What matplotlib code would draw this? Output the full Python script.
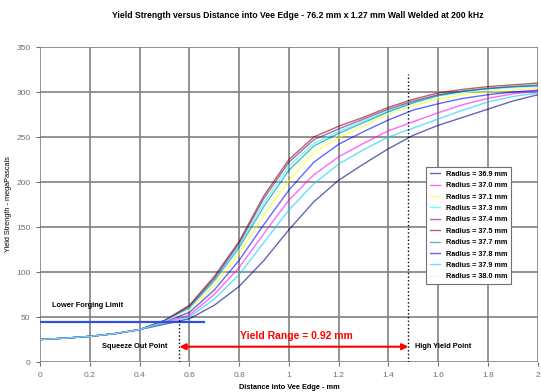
import numpy as np
import matplotlib
matplotlib.use('Agg')
import matplotlib.pyplot as plt

plt.rcParams['font.family'] = ['Liberation Sans', 'DejaVu Sans']

# distance into vee edge (mm)
x = [0.0, 0.1, 0.2, 0.3, 0.4, 0.5, 0.6, 0.7, 0.8, 0.9, 1.0,
     1.1, 1.2, 1.3, 1.4, 1.5, 1.6, 1.7, 1.8, 1.9, 2.0]

# yield strength (MPa) per radius
r369 = [25, 26.5, 28.5, 31.5, 36, 42, 48, 63, 84, 113, 147, 178, 202, 220, 237, 252, 263, 272, 281, 290, 297]
r370 = [25, 26.5, 28.5, 31.5, 36, 44, 52, 75, 105, 143, 180, 208, 228, 243, 257, 267, 277, 286, 293, 298, 301]
r371 = [25, 26.5, 28.5, 31.5, 36, 45, 57, 85, 120, 163, 202, 233, 249, 262, 275, 285, 292, 297, 300, 302, 304]
r373 = [25, 26.5, 28.5, 31.5, 36, 46, 61, 92, 130, 177, 218, 243, 256, 268, 279, 289, 296, 300, 303, 305, 306]
r374 = [25, 26.5, 28.5, 31.5, 36, 46, 62, 93, 132, 182, 222, 247, 259, 270, 281, 290, 297, 301, 304, 306, 307]
r375 = [25, 26.5, 28.5, 31.5, 36, 46, 63, 95, 134, 185, 225, 250, 262, 272, 283, 292, 299, 303, 306, 308, 310]
r377 = [25, 26.5, 28.5, 31.5, 36, 46, 60, 90, 127, 173, 213, 240, 254, 266, 278, 288, 296, 301, 304, 306, 308]
r378 = [25, 26.5, 28.5, 31.5, 36, 45, 55, 80, 113, 153, 191, 222, 242, 256, 269, 280, 287, 293, 297, 300, 302]
r379 = [25, 26.5, 28.5, 31.5, 36, 43, 50, 70, 97, 133, 169, 198, 220, 236, 250, 260, 270, 280, 289, 295, 299]
r380 = [25, 26.5, 28.5, 31.5, 36, 45, 58, 88, 124, 168, 208, 237, 252, 264, 276, 286, 294, 299, 302, 304, 305]

series = [r369, r370, r371, r373, r374, r375, r377, r378, r379, r380]
labels = ['Radius = 36.9 mm', 'Radius = 37.0 mm', 'Radius = 37.1 mm', 'Radius = 37.3 mm',
          'Radius = 37.4 mm', 'Radius = 37.5 mm', 'Radius = 37.7 mm', 'Radius = 37.8 mm',
          'Radius = 37.9 mm', 'Radius = 38.0 mm']
colors = ['#000080', '#FF00FF', '#FFFF00', '#00FFFF', '#800080',
          '#800000', '#008080', '#0000FF', '#00CCFF', '#CCFFFF']

forging_limit = 45
squeeze_x = 0.56
high_yield_x = 1.48

fig = plt.figure(figsize=(5.41, 3.92), dpi=100)
ax = fig.add_axes([0.074, 0.0765, 0.92, 0.8035])

for ys, lab, c in zip(series, labels, colors):
    ax.plot(x, ys, color=c, lw=1.0, alpha=0.6, label=lab)

# lower forging limit
ax.plot([0, 0.66], [forging_limit, forging_limit], color='#3050e0', lw=1.6)
ax.text(0.05, 63, 'Lower Forging Limit', fontsize=5.3, fontweight='bold', va='center')

# squeeze out / high yield markers
ax.plot([squeeze_x, squeeze_x], [0, 47], color='black', lw=1.0, ls=':')
ax.plot([high_yield_x, high_yield_x], [0, 320], color='black', lw=1.0, ls=':')
ax.text(0.51, 17, 'Squeeze Out Point', fontsize=5.3, fontweight='bold', ha='right', va='center')
ax.text(1.505, 17, 'High Yield Point', fontsize=5.3, fontweight='bold', ha='left', va='center')
ax.annotate('', xy=(squeeze_x, 17), xytext=(high_yield_x, 17),
            arrowprops=dict(arrowstyle='<|-|>', color='red', lw=1.5,
                            mutation_scale=9, shrinkA=0, shrinkB=0))
ax.text(1.03, 29, 'Yield Range = %.2f mm' % (high_yield_x - squeeze_x), color='red',
        fontsize=7.5, fontweight='bold', ha='center', va='center')

ax.set_xlim(0, 2)
ax.set_ylim(0, 350)
ax.set_xticks(np.arange(0, 2.01, 0.2))
ax.set_xticklabels(['0', '0.2', '0.4', '0.6', '0.8', '1', '1.2', '1.4', '1.6', '1.8', '2'])
ax.set_yticks(np.arange(0, 351, 50))
ax.grid(True, color='#808080', lw=1.2)
ax.set_axisbelow(True)
for s in ax.spines.values():
    s.set_visible(False)
ax.tick_params(labelsize=6, colors='#707070', length=3, width=0.8, pad=4)

ax.set_xlabel('Distance into Vee Edge - mm', fontsize=5.3, fontweight='bold', labelpad=4)
ax.set_ylabel('Yield Strength - megaPascals', fontsize=5.3, labelpad=3)
fig.text(0.55, 0.96, 'Yield Strength versus Distance into Vee Edge - 76.2 mm x 1.27 mm Wall Welded at 200 kHz',
         fontsize=6.2, fontweight='bold', ha='center', va='center')

leg = ax.legend(loc='upper left', bbox_to_anchor=(0.769, 0.63), fontsize=5.2,
                prop={'size': 5.2, 'weight': 'bold'}, handlelength=1.4,
                labelspacing=0.6, borderpad=0.5, fancybox=False, framealpha=1,
                edgecolor='#707070')
leg.get_frame().set_linewidth(0.8)

fig.savefig('out.png', dpi=100)
